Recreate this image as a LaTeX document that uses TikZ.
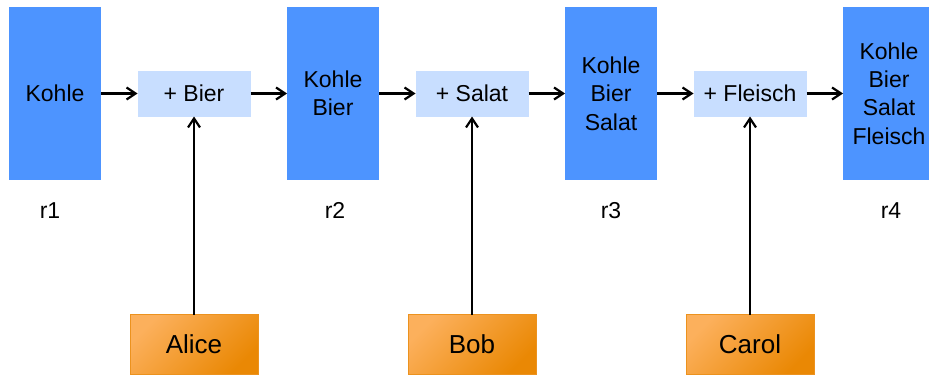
\documentclass[tikz,border=0pt]{standalone}
\usepackage{fontspec}
\setmainfont{Liberation Sans}
\usepackage{xcolor}
\usepackage{tikz}
\usetikzlibrary{positioning}
\usetikzlibrary{arrows.meta}

\definecolor{storeblue}{RGB}{77,148,255}
\definecolor{opblue}{RGB}{200,222,255}
\definecolor{usertop}{RGB}{252,176,92}
\definecolor{userbot}{RGB}{234,136,4}
\definecolor{userline}{RGB}{236,146,30}

\begin{document}
\begin{tikzpicture}[x=1pt,y=1pt,node distance=36.5pt,
  flow/.style={->,>={Straight Barb[length=9pt,width=12pt]},line width=2.2pt},
  store/.style={fill=storeblue,outer sep=0pt,minimum width=92pt,minimum height=173pt,inner sep=0pt,align=center,font=\fontsize{23}{28.3}\selectfont},
  op/.style={fill=opblue,outer sep=0pt,minimum width=113pt,minimum height=46pt,inner sep=0pt,font=\fontsize{23}{28}\selectfont},
  user/.style={draw=userline,line width=0.6pt,outer sep=0pt,top color=usertop,bottom color=userbot,shading angle=45,minimum width=128pt,minimum height=60pt,inner sep=0pt,font=\fontsize{26}{30}\selectfont},
  tag/.style={inner sep=0pt,font=\fontsize{23}{28}\selectfont}]
\useasboundingbox (0,0) rectangle (929,376);

\node[store] (r1)   at (55,282.5)     {Kohle};
\node[op]    (add1) [right=of r1]     {+ Bier};
\node[store] (r2)   [right=of add1]   {Kohle\\Bier};
\node[op]    (add2) [right=of r2]     {+ Salat};
\node[store] (r3)   [right=of add2]   {Kohle\\Bier\\Salat};
\node[op]    (add3) [right=of r3]     {+ Fleisch};
\node[store] (r4)   [right=of add3]   {Kohle\\Bier\\Salat\\Fleisch};

\node[user] (alice) [below=198pt of add1] {Alice};
\node[user] (bob)   [below=198pt of add2] {Bob};
\node[user] (carol) [below=198pt of add3] {Carol};

\node[tag] (t1) [below=22pt of r1,xshift=-5pt] {r1};
\node[tag] (t2) [below=22pt of r2,xshift=2pt] {r2};
\node[tag] (t3) [below=22pt of r3] {r3};
\node[tag] (t4) [below=22pt of r4,xshift=2pt] {r4};

\draw[flow] (r1) -- (add1);
\draw[flow] (add1) -- (r2);
\draw[flow] (r2) -- (add2);
\draw[flow] (add2) -- (r3);
\draw[flow] (r3) -- (add3);
\draw[flow] (add3) -- (r4);
\draw[flow] (alice) -- (add1);
\draw[flow] (bob) -- (add2);
\draw[flow] (carol) -- (add3);

\end{tikzpicture}
\end{document}
